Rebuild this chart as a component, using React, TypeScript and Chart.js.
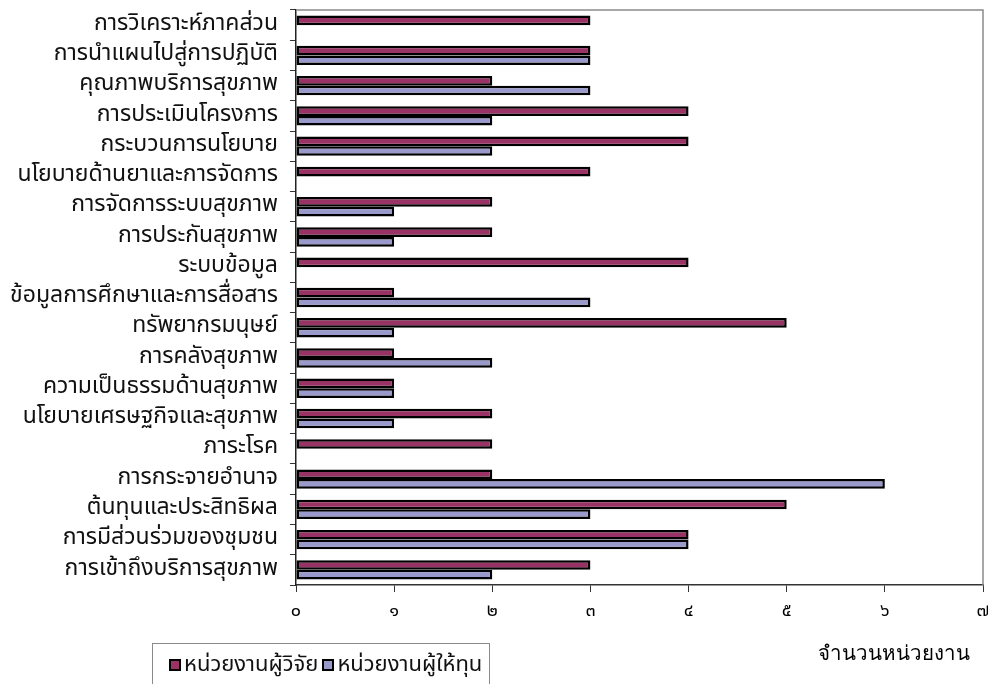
import React, { useEffect, useRef } from "react";
import { Chart, registerables } from "chart.js";

Chart.register(...registerables);

const categories = [
  "การวิเคราะห์ภาคส่วน",
  "การนำแผนไปสู่การปฏิบัติ",
  "คุณภาพบริการสุขภาพ",
  "การประเมินโครงการ",
  "กระบวนการนโยบาย",
  "นโยบายด้านยาและการจัดการ",
  "การจัดการระบบสุขภาพ",
  "การประกันสุขภาพ",
  "ระบบข้อมูล",
  "ข้อมูลการศึกษาและการสื่อสาร",
  "ทรัพยากรมนุษย์",
  "การคลังสุขภาพ",
  "ความเป็นธรรมด้านสุขภาพ",
  "นโยบายเศรษฐกิจและสุขภาพ",
  "ภาระโรค",
  "การกระจายอำนาจ",
  "ต้นทุนและประสิทธิผล",
  "การมีส่วนร่วมของชุมชน",
  "การเข้าถึงบริการสุขภาพ",
];

const researcherValues = [3, 3, 2, 4, 4, 3, 2, 2, 4, 1, 5, 1, 1, 2, 2, 2, 5, 4, 3];
const funderValues = [0, 3, 3, 2, 2, 0, 1, 1, 0, 3, 1, 2, 1, 1, 0, 6, 3, 4, 2];

const seriesNames = ["หน่วยงานผู้วิจัย", "หน่วยงานผู้ให้ทุน"];
const thaiDigits = ["๐", "๑", "๒", "๓", "๔", "๕", "๖", "๗"];
const axisTitle = "จำนวนหน่วยงาน";

const MAROON = "#993366";
const LAVENDER = "#9999CC";
const SANS = "'Noto Sans Thai', 'Noto Sans', sans-serif";
const SERIF = "serif";

const frameBorder = {
  id: "frameBorder",
  beforeDatasetsDraw(chart: any) {
    const { ctx, chartArea } = chart;
    ctx.save();
    ctx.strokeStyle = "#8a8a8a";
    ctx.lineWidth = 1.5;
    ctx.beginPath();
    ctx.moveTo(chartArea.left, chartArea.top);
    ctx.lineTo(chartArea.right, chartArea.top);
    ctx.lineTo(chartArea.right, chartArea.bottom);
    ctx.stroke();
    ctx.restore();
  },
};

export default function App() {
  const ref = useRef<HTMLCanvasElement>(null);

  useEffect(() => {
    if (!ref.current) return;
    const chart = new Chart(ref.current, {
      type: "bar",
      data: {
        labels: categories,
        datasets: [
          {
            label: seriesNames[0],
            data: researcherValues,
            backgroundColor: MAROON,
            borderColor: "#000000",
            borderWidth: 2.5,
            borderSkipped: false,
          },
          {
            label: seriesNames[1],
            data: funderValues,
            backgroundColor: LAVENDER,
            borderColor: "#000000",
            borderWidth: 2.5,
            borderSkipped: false,
          },
        ],
      },
      options: {
        indexAxis: "y",
        responsive: false,
        animation: false,
        datasets: {
          bar: { barPercentage: 1, categoryPercentage: 0.64 },
        },
        layout: { padding: { left: 0, right: 5, top: 10, bottom: 0 } },
        plugins: {
          legend: { display: false },
          tooltip: { enabled: false },
        },
        scales: {
          x: {
            min: 0,
            max: 7,
            ticks: {
              stepSize: 1,
              color: "#000",
              padding: 10,
              maxRotation: 0,
              minRotation: 0,
              font: { family: SANS, size: 18 },
              callback: (v: any) => thaiDigits[Number(v)] ?? String(v),
            },
            grid: {
              display: true,
              drawOnChartArea: false,
              tickLength: 7,
              color: "#333",
            },
            border: { display: true, color: "#333", width: 1.5 },
            afterFit: (scale: any) => {
              scale.height = 99;
              scale.paddingRight = 0;
              scale.paddingLeft = 0;
            },
          },
          y: {
            ticks: {
              color: "#111",
              padding: 12,
              font: { family: SANS, size: 23 },
              autoSkip: false,
            },
            grid: {
              display: true,
              drawOnChartArea: false,
              tickLength: 6,
              color: "#333",
              offset: true,
            },
            border: { display: true, color: "#222", width: 1.5 },
            afterFit: (scale: any) => {
              scale.width = 296;
              scale.paddingTop = 0;
              scale.paddingBottom = 0;
            },
          },
        },
      },
      plugins: [frameBorder],
    });
    return () => chart.destroy();
  }, []);

  const legendItem = (color: string, text: string) => (
    <span style={{ display: "inline-flex", alignItems: "center", marginRight: 4 }}>
      <span
        style={{
          display: "inline-block",
          width: 8,
          height: 8,
          background: color,
          border: "2px solid #000",
          marginRight: 3,
        }}
      />
      <span>{text}</span>
    </span>
  );

  return (
    <div style={{ position: "absolute", left: 0, top: 0, width: 988, height: 684, background: "#fff", overflow: "hidden" }}>
      <canvas ref={ref} width={988} height={684} style={{ display: "block" }} />
      <div
        style={{
          position: "absolute",
          left: 152,
          top: 643,
          width: 338,
          height: 50,
          border: "1px solid #8a8a8a",
          boxSizing: "border-box",
          fontFamily: SANS,
          fontSize: 22,
          color: "#111",
          paddingLeft: 16,
          paddingTop: 6,
          whiteSpace: "nowrap",
          lineHeight: "30px",
        }}
      >
        {legendItem(MAROON, seriesNames[0])}
        {legendItem(LAVENDER, seriesNames[1])}
      </div>
      <div
        style={{
          position: "absolute",
          left: 818,
          top: 636,
          fontFamily: SERIF,
          fontSize: 20.5,
          color: "#000",
          whiteSpace: "nowrap",
        }}
      >
        {axisTitle}
      </div>
    </div>
  );
}
